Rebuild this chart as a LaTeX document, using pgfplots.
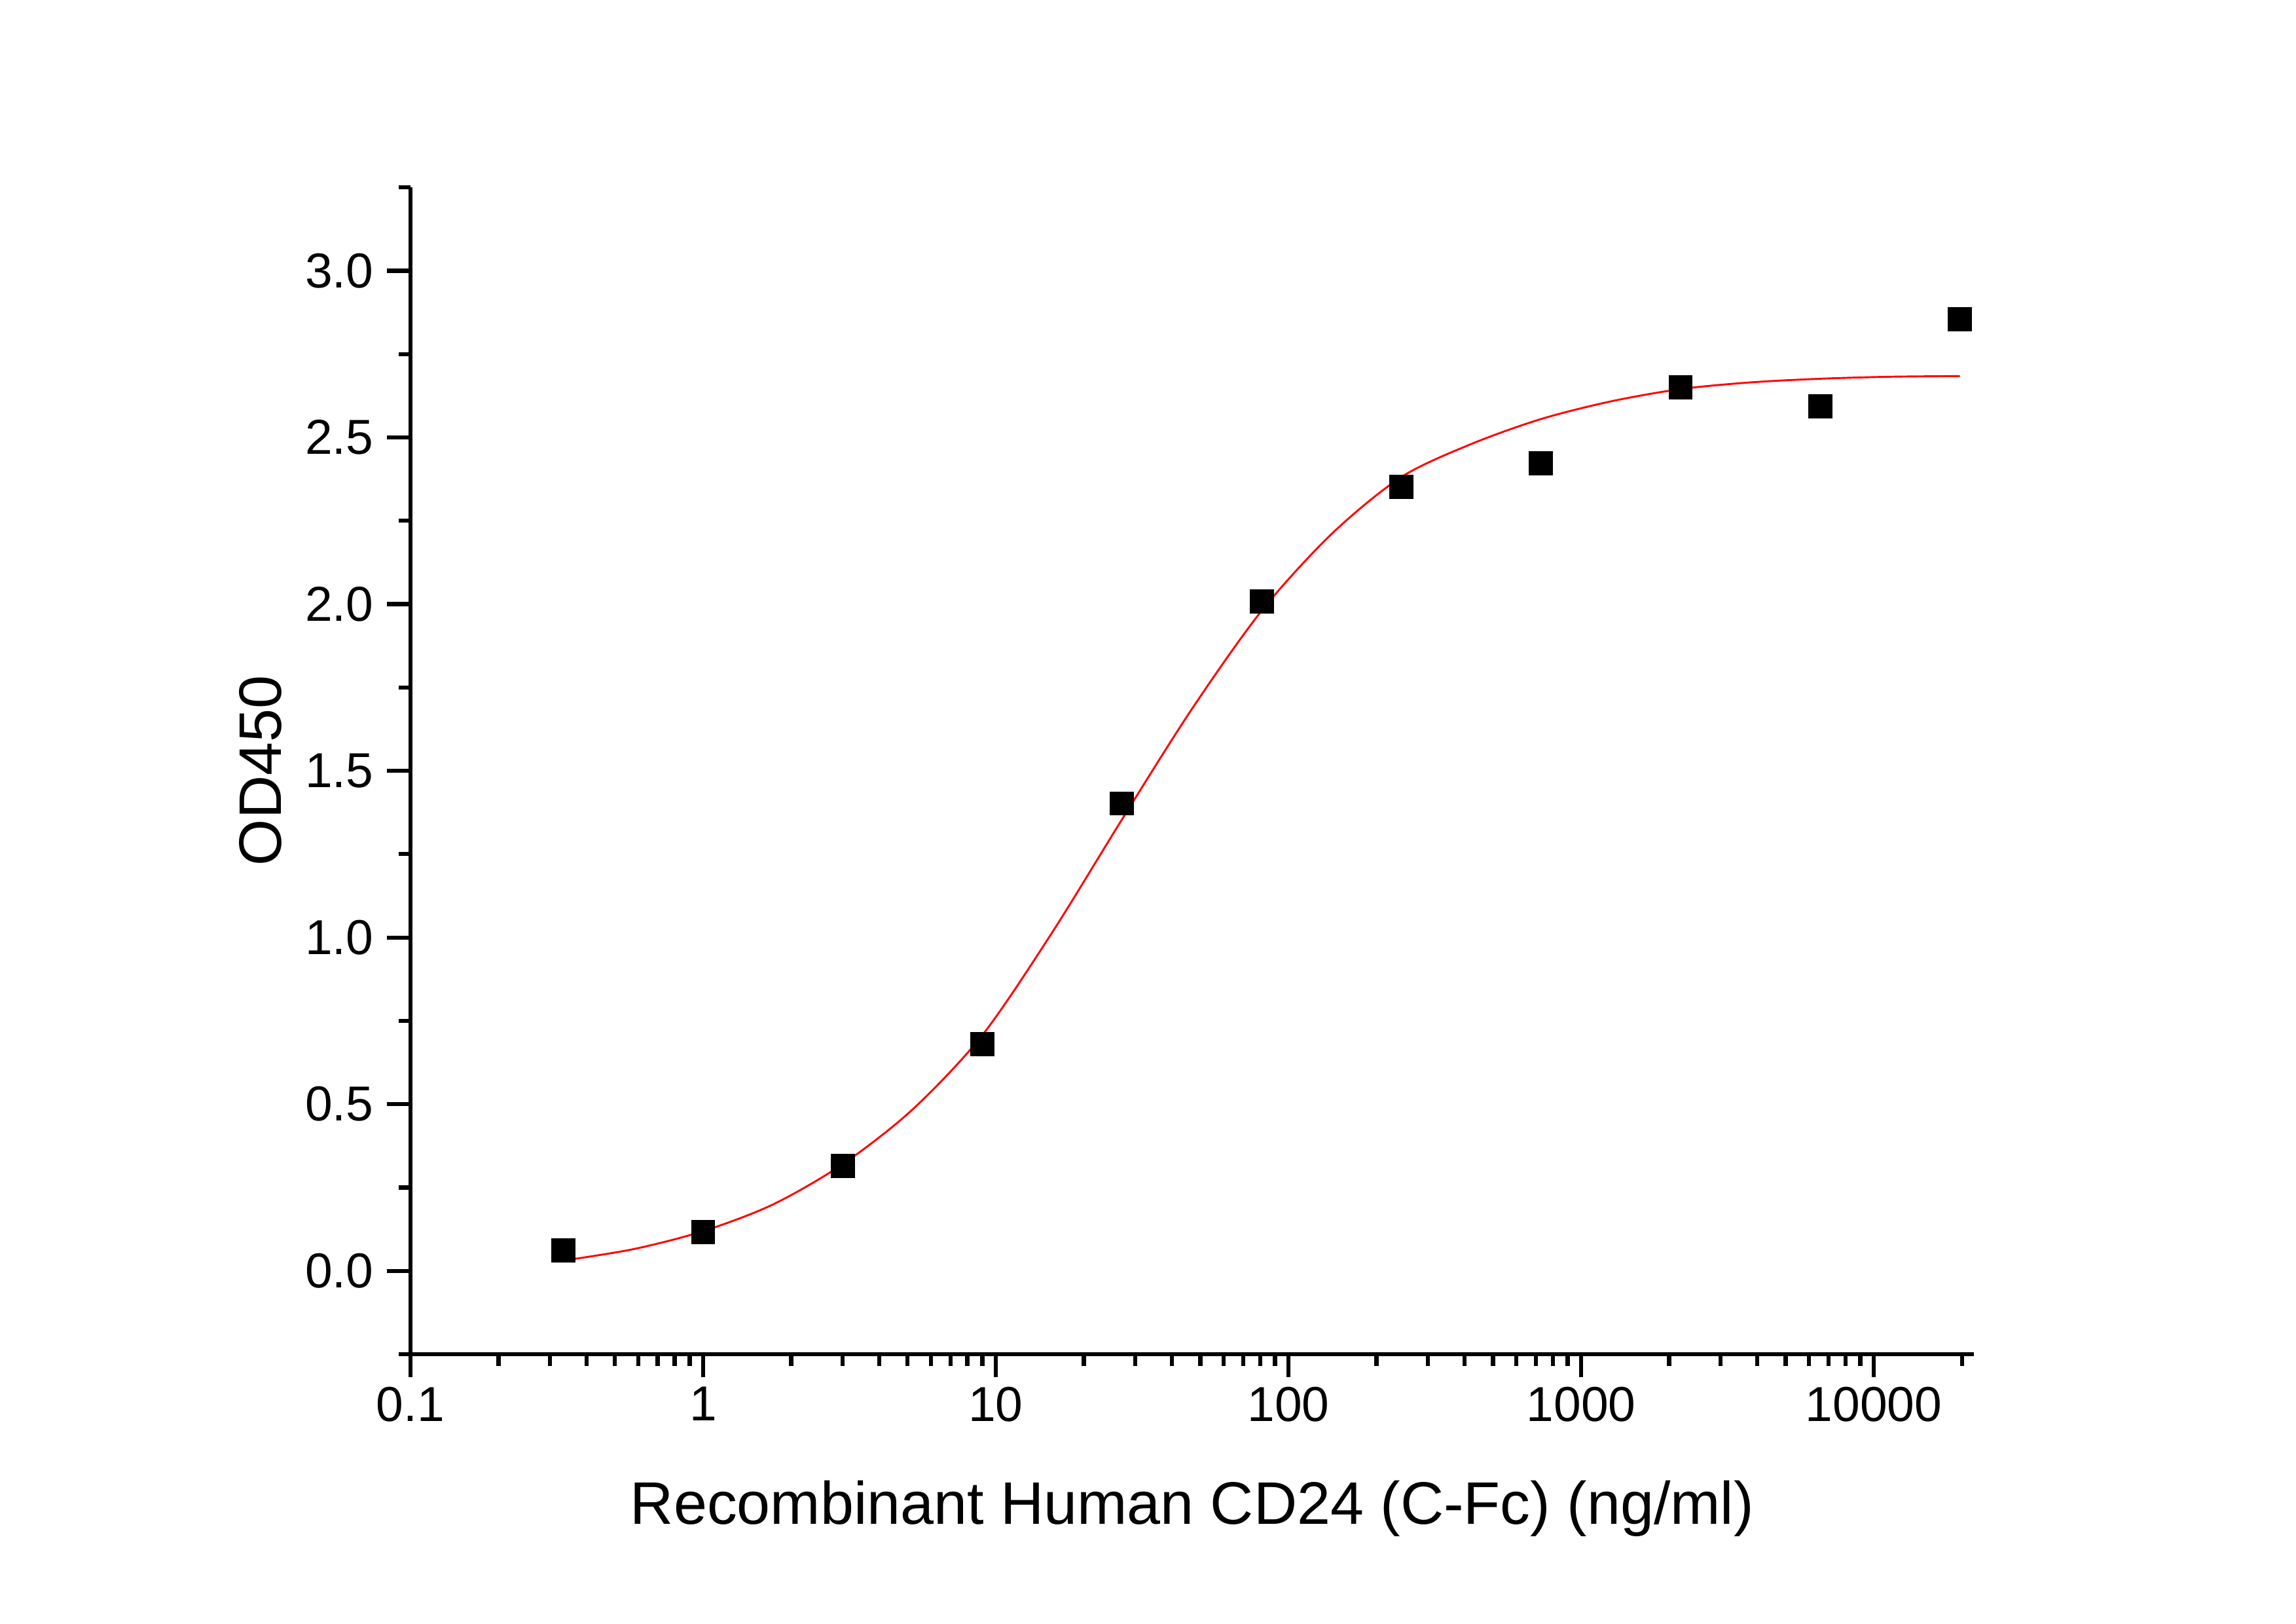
\documentclass[border=0pt]{standalone}
\usepackage{fontspec}
\setmainfont{Liberation Sans}
\usepackage{pgfplots}
\pgfplotsset{compat=1.18}
\begin{document}
\begin{tikzpicture}
\useasboundingbox (-150.5pt,-98.9pt) rectangle (691.5pt,496.5pt);
\begin{axis}[
  at={(0pt,0pt)}, anchor=south west,
  width=573.4pt, height=427.8pt, scale only axis,
  xmode=log, log basis x=10,
  xmin=0.1, xmax=22000, ymin=-0.25, ymax=3.25,
  axis x line=bottom, axis y line=left,
  axis line style={-, line width=1.6pt, black},
  x axis line style={-}, y axis line style={-},
  tick align=outside,
  major tick length=8.5pt, minor tick length=4.4pt,
  tick style={line width=1.5pt, black},
  xtick={0.1,1,10,100,1000,10000},
  xticklabels={0.1,1,10,100,1000,10000},
  minor xtick={0.2,0.3,0.4,0.5,0.6,0.7,0.8,0.9,2,3,4,5,6,7,8,9,20,30,40,50,60,70,80,90,200,300,400,500,600,700,800,900,2000,3000,4000,5000,6000,7000,8000,9000,20000},
  ytick={0,0.5,1.0,1.5,2.0,2.5,3.0},
  minor ytick={-0.25,0.25,0.75,1.25,1.75,2.25,2.75,3.25},
  /pgf/number format/assume math mode=true,
  yticklabel style={/pgf/number format/fixed, /pgf/number format/fixed zerofill, /pgf/number format/precision=1, xshift=-1.5pt},
  tick label style={font=\fontsize{18}{21}\selectfont, black},
  xlabel={Recombinant Human CD24 (C-Fc) (ng/ml)},
  ylabel={OD450},
  label style={font=\fontsize{22}{26}\selectfont},
  xlabel style={at={([yshift=-62.4pt]axis description cs:0.5,0)}, anchor=base},
  ylabel style={at={([xshift=-47.3pt]axis description cs:0,0.5)}, anchor=base},
  clip=false,
]
\addplot[only marks, mark=square*, mark size=4.3pt, mark options={fill=black, draw=black, line width=0.2pt}] coordinates {
(0.3333,0.062) (1,0.116) (3,0.315) (9,0.681) (27,1.402) (81,2.008) (243,2.352) (729,2.423) (2187,2.651) (6561,2.593) (19683,2.854)};
\addplot[red, line width=0.7pt, smooth, no markers] coordinates {
(0.3333,0.031) (0.5774,0.065) (1,0.119) (1.732,0.199) (3,0.32) (5.196,0.484) (9,0.707) (15.59,1.015) (27,1.354) (46.77,1.685) (81,1.98) (140.3,2.21) (243,2.381) (420.9,2.48) (729,2.555) (1262.7,2.608) (2187,2.645) (3788,2.665) (6561,2.676) (11364,2.682) (19683,2.684)};
\end{axis}
\end{tikzpicture}
\end{document}
